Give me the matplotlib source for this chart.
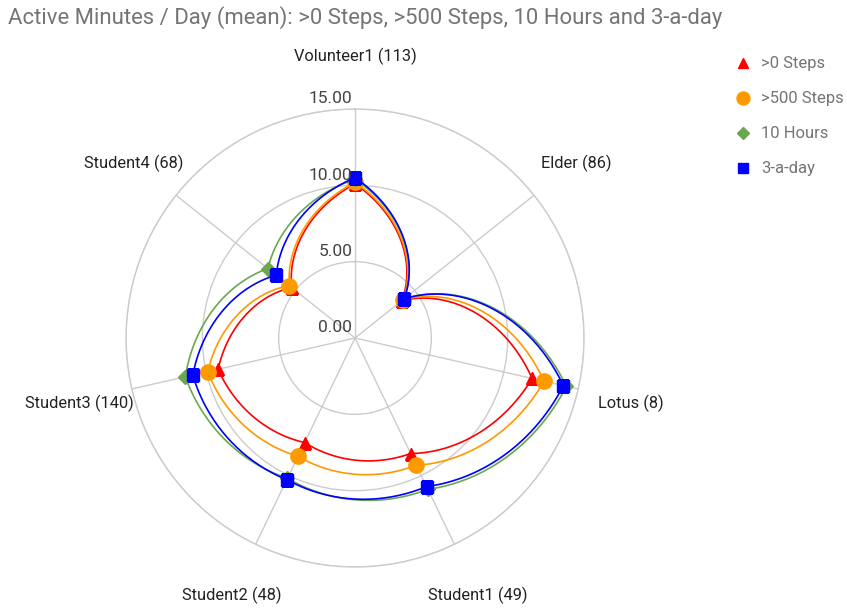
import numpy as np
import matplotlib.pyplot as plt
from matplotlib.lines import Line2D

plt.rcParams['font.family'] = ['Roboto', 'DejaVu Sans']

categories = ['Volunteer1 (113)', 'Elder (86)', 'Lotus (8)', 'Student1 (49)',
              'Student2 (48)', 'Student3 (140)', 'Student4 (68)']

steps_0 = [10.1, 3.9, 11.9, 8.4, 7.6, 9.2, 5.3]
steps_500 = [10.2, 4.0, 12.7, 9.25, 8.6, 9.9, 5.5]
ten_hours = [10.4, 4.1, 14.2, 11.0, 10.2, 11.4, 7.3]
three_a_day = [10.5, 4.1, 14.0, 10.8, 10.3, 10.9, 6.6]

series = [
    ('>0 Steps', steps_0, '#ff0000', '^', 9),
    ('>500 Steps', steps_500, '#ff9900', 'o', 11),
    ('10 Hours', ten_hours, '#6aa84f', 'D', 7),
    ('3-a-day', three_a_day, '#0000ff', 's', 8),
]

n = len(categories)
theta = np.arange(n) * 2 * np.pi / n
theta_closed = np.append(theta, 2 * np.pi)

fig = plt.figure(figsize=(8.47, 6.08), dpi=100)
ax = fig.add_axes([0.1488, 0.0674, 0.5407, 0.7533], projection='polar')
ax.set_theta_zero_location('N')
ax.set_theta_direction(-1)
ax.set_ylim(0, 15)

grid_col = '#cccccc'
ax.set_yticks([5, 10, 15])
ax.set_yticklabels([])
ax.set_xticks(theta)
ax.set_xticklabels([])
ax.grid(True, color=grid_col, lw=1)
ax.spines['polar'].set_color(grid_col)
ax.spines['polar'].set_linewidth(1)

for v in [0, 5, 10, 15]:
    ax.annotate(f'{v:.2f}', xy=(0, v), xytext=(-2, 2), textcoords='offset points',
                ha='right', va='bottom', fontsize=12.5, color='#444444')

for t, lab in zip(theta, categories):
    ax.text(t, 18.55, lab, ha='center', va='center_baseline', fontsize=11.8, color='#222222')

for name, vals, col, mk, ms in series:
    r = np.append(vals, vals[0])
    ln, = ax.plot(theta_closed, r, color=col, lw=1.2)
    # curve the segments along theta like a spiral
    ln.get_path()._interpolation_steps = 60
    ax.plot(theta, vals, ls='none', marker=mk, ms=ms, color=col, mec=col)

handles = [Line2D([], [], ls='none', marker=mk, ms=ms * 0.85, color=col)
           for name, vals, col, mk, ms in series]
fig.legend(handles, [s[0] for s in series], loc='upper left',
           bbox_to_anchor=(0.8477, 0.932), frameon=False, fontsize=12,
           labelcolor='#757575', labelspacing=1.2, handlelength=1.2,
           handletextpad=0.5)

fig.text(0.01, 0.972, 'Active Minutes / Day (mean): >0 Steps, >500 Steps, 10 Hours and 3-a-day',
         ha='left', va='center', fontsize=15.9, color='#757575')

fig.savefig('out.png', dpi=100)
